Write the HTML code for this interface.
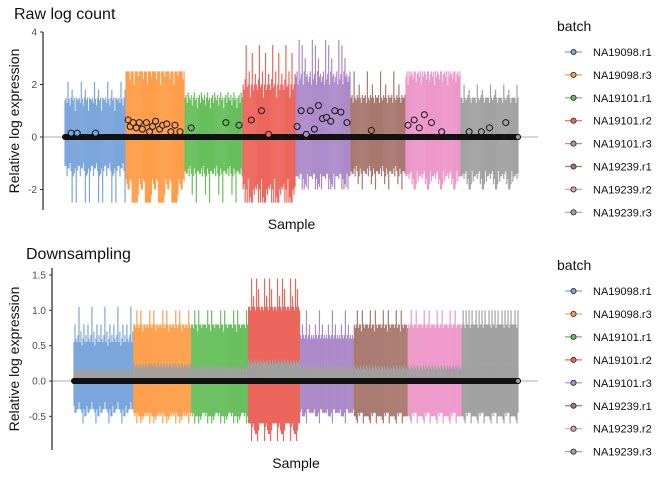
<!DOCTYPE html>
<html><head><meta charset="utf-8"><style>
body{margin:0;background:#fff;width:672px;height:480px;overflow:hidden}
svg{display:block;font-family:"Liberation Sans",sans-serif}
</style></head><body>
<svg id="c" width="672" height="480"></svg>
<script>
const batches=["NA19098.r1","NA19098.r3","NA19101.r1","NA19101.r2","NA19101.r3","NA19239.r1","NA19239.r2","NA19239.r3"];
const colors=["#7aa6dc","#ff9e4a","#67bf5c","#ed665d","#ad8bc9","#a8786e","#ed97ca","#a2a2a2"];
const samplesPerBatch=[60,58,57,52,54,54,54,57];
// top panel whisker patterns (cycled per sample)
const rawHi=[[1.4,1.5,1.3,2.1,1.45,1.2,1.5,1.8,1.4,1.5,1.0,1.5,1.45],[2.5,2.5,2.5,2.5,2.2,2.5,2.5,2.5,2.0,2.5,2.5,2.5,2.3],[1.5,1.6,1.3,1.7,1.5,1.4,1.6,1.2,1.5,1.7,1.4,1.5,1.1],[2.0,1.8,2.2,3.5,1.9,2.0,2.5,1.5,2.0,3.2,1.8,2.0,2.4],[2.3,2.5,2.0,3.7,2.2,2.4,3.5,2.0,2.5,3.0,2.3,2.4,2.1],[1.5,1.6,1.3,2.5,1.5,1.4,1.6,1.5,2.0,1.5,1.3,1.6,1.5],[2.3,2.5,2.0,2.5,2.3,2.5,2.4,2.2,2.5,2.5,2.1,2.4,2.5],[1.5,1.5,1.3,2.0,1.5,1.4,1.5,1.6,1.8,1.5,1.3,1.5,1.5]];
const rawLo=[[-1.1,-1.5,-1.2,-2.5,-1.3,-1.1,-1.4,-1.2,-1.3,-2.5,-1.5,-1.2,-1.0],[-1.6,-2.5,-2.0,-2.5,-2.5,-1.8,-2.5,-1.6,-2.2,-2.5,-2.0,-2.5,-1.7],[-1.3,-1.5,-1.2,-2.5,-1.4,-1.4,-1.2,-1.5,-1.3,-2.2,-1.4,-1.4,-1.1],[-2.0,-2.5,-2.0,-2.2,-2.5,-1.8,-2.5,-2.5,-1.9,-2.3,-2.5,-2.0,-1.6],[-1.5,-2.0,-1.6,-1.4,-2.0,-1.5,-1.8,-1.4,-2.0,-1.6,-1.5,-1.9,-1.4],[-1.3,-1.5,-1.2,-2.0,-1.3,-1.4,-1.2,-1.5,-1.3,-1.8,-1.4,-1.4,-1.1],[-1.5,-2.0,-1.6,-1.3,-1.8,-1.5,-2.0,-1.4,-1.7,-1.6,-1.4,-1.8,-1.3],[-1.5,-2.0,-1.6,-1.3,-1.8,-1.5,-2.0,-1.4,-1.7,-1.6,-1.4,-1.8,-1.3]];
const rawBox=[0.12,-0.05];
// top panel median points: [batch, sampleIndex, value]
const rawPts=[[0,6,0.15],[0,12,0.15],[0,30,0.15],[1,2,0.65],[1,4,0.4],[1,7,0.55],[1,10,0.35],[1,13,0.55],[1,16,0.3],[1,20,0.55],[1,23,0.2],[1,26,0.4],[1,29,0.6],[1,33,0.3],[1,36,0.45],[1,40,0.5],[1,44,0.2],[1,48,0.45],[1,53,0.2],[2,6,0.35],[2,40,0.55],[2,53,0.45],[3,8,0.65],[3,18,1.0],[3,25,0.1],[4,1,0.4],[4,5,1.0],[4,10,0.1],[4,14,1.0],[4,18,0.3],[4,22,1.2],[4,26,0.7],[4,30,0.75],[4,34,0.6],[4,38,1.0],[4,44,0.95],[4,50,0.55],[5,20,0.25],[6,2,0.45],[6,8,0.65],[6,13,0.35],[6,18,0.85],[6,25,0.55],[6,35,0.2],[7,8,0.2],[7,20,0.2],[7,28,0.35],[7,44,0.55]];
// bottom panel
const dsHi=[[0.55,0.8,0.6,0.55,0.65,1.05,0.55,0.7,0.5,0.6,0.8,0.55,0.65],[0.8,0.8,0.75,1.0,0.8,0.75,0.8,1.0,0.8,0.7,0.8,0.8,0.75],[0.8,0.8,0.75,1.0,0.8,0.8,0.7,1.0,0.8,0.8,0.75,0.8,0.8],[1.05,1.05,1.0,1.45,1.05,1.2,1.05,1.0,1.45,1.05,1.3,1.05,1.0],[0.65,0.6,0.8,0.65,0.6,0.65,1.0,0.6,0.65,0.8,0.6,0.65,0.6],[0.8,0.75,0.8,1.0,0.75,0.8,0.8,0.7,1.0,0.8,0.75,0.8,0.8],[0.8,0.75,0.8,1.0,0.8,0.75,0.8,0.8,1.0,0.75,0.8,0.8,0.8],[0.8,1.0,0.8,0.75,1.0,0.8,0.8,1.0,0.75,0.8,1.0,0.8,0.8]];
const dsLo=[[-0.35,-0.45,-0.4,-0.5,-0.4,-0.45,-0.6,-0.4,-0.5,-0.4,-0.45,-0.4,-0.3],[-0.45,-0.5,-0.6,-0.45,-0.5,-0.5,-0.55,-0.45,-0.5,-0.6,-0.45,-0.5,-0.5],[-0.45,-0.5,-0.6,-0.45,-0.5,-0.5,-0.55,-0.5,-0.45,-0.6,-0.45,-0.5,-0.5],[-0.6,-0.75,-0.85,-0.6,-0.7,-0.6,-0.85,-0.65,-0.6,-0.75,-0.6,-0.7,-0.6],[-0.45,-0.4,-0.5,-0.45,-0.6,-0.4,-0.45,-0.5,-0.45,-0.4,-0.5,-0.45,-0.45],[-0.5,-0.45,-0.6,-0.5,-0.45,-0.5,-0.6,-0.45,-0.5,-0.45,-0.55,-0.5,-0.5],[-0.5,-0.45,-0.6,-0.5,-0.45,-0.5,-0.6,-0.45,-0.5,-0.45,-0.55,-0.5,-0.5],[-0.5,-0.45,-0.6,-0.5,-0.45,-0.5,-0.6,-0.45,-0.5,-0.45,-0.55,-0.5,-0.5]];
const dsBoxHi=[0.18,0.25,0.22,0.3,0.22,0.22,0.22,0.2];
const dsBoxLo=[0,0,0,0,0,0,0,0];
const rawTicks=[4,2,0,-2];
const dsTicks=[1.5,1.0,0.5,0.0,-0.5];
const dsTickLabels=["1.5","1.0","0.5","0.0","-0.5"];

const svg=document.getElementById('c');
const NS='http://www.w3.org/2000/svg';
function mk(t,a,p){const e=document.createElementNS(NS,t);for(const k in a)e.setAttribute(k,a[k]);(p||svg).appendChild(e);return e;}

function panel(o){
  const g=mk('g',{});
  
  
  const y=v=>o.y0+(o.yTop-o.y0)*(v/o.vTop);
  const total=samplesPerBatch.reduce((a,b)=>a+b,0);
  const x=i=>o.x0+(o.x1-o.x0)*i/(total-1);
  const zl=mk('line',{x1:o.axX,x2:o.x1+20,y1:y(0),y2:y(0),stroke:'#bdbdbd','stroke-width':1.2},g);
  
  
  let idx=0;const starts=[];
  samplesPerBatch.forEach((n,b)=>{
    starts.push(idx);
    const bg=mk('g',{},g);
    
    
    const L=o.hi[b].length;
    for(let s=0;s<n;s++){
      const xi=x(idx+s);
      const hi=o.hi[b][s%L],lo=o.lo[b][(s*5)%L];
      mk('line',{x1:xi,x2:xi,y1:y(hi),y2:y(lo),stroke:colors[b],'stroke-width':1.2},bg);
    }
    for(let s=0;s<n;s++){
      const xi=x(idx+s);
      mk('line',{x1:xi,x2:xi,y1:y(o.bh(b,s)),y2:y(o.bl(b,s)),stroke:'#a0a0a0','stroke-width':1.1},bg);
    }
    idx+=n;
  });
  const ml=mk('line',{x1:x(0),x2:x(total-1),y1:y(0),y2:y(0),stroke:'#111','stroke-width':6,'stroke-linecap':'round'},g);
  
  
  (o.pts||[]).forEach(p=>{
    const c=mk('circle',{cx:x(starts[p[0]]+p[1]),cy:y(p[2]),r:3,fill:colors[p[0]],stroke:'#111','stroke-width':1},g);
    
    
  });
  mk('circle',{cx:x(total-1),cy:y(0),r:2.5,fill:colors[7],stroke:'#111','stroke-width':1},g);
  const ax=mk('line',{x1:o.axX,x2:o.axX,y1:o.axTop,y2:o.axBot,stroke:'#333','stroke-width':1.3},g);
  
  
  o.ticks.forEach((t,i)=>{
    mk('line',{x1:o.axX-3,x2:o.axX,y1:y(t),y2:y(t),stroke:'#333'},g);
    const tx=mk('text',{x:o.axX-6,y:y(t)+3.5,'text-anchor':'end','font-size':10,fill:'#4d4d4d'},g);
    tx.textContent=o.labels[i];
    
    
  });
  const tt=mk('text',{x:o.titleX,y:o.titleY,'font-size':16,fill:'#111'},g);
  tt.textContent=o.title;
  
  
  const yt=mk('text',{x:0,y:0,'font-size':14,fill:'#111','text-anchor':'middle',transform:`translate(${o.ytX},${(o.axTop+o.axBot)/2}) rotate(-90)`},g);
  yt.textContent='Relative log expression';
  
  
  const xt=mk('text',{x:(o.x0+o.x1)/2,y:o.xtY,'font-size':14,fill:'#111','text-anchor':'middle'},g);
  xt.textContent='Sample';
  
  
  const lg=mk('g',{},g);
  
  
  const lt=mk('text',{x:557,y:o.legY,'font-size':14,fill:'#111'},lg);
  lt.textContent='batch';
  batches.forEach((b,i)=>{
    const ly=o.legY0+i*o.legDy;
    const e=mk('g',{},lg);
    
    
    mk('line',{x1:565,x2:582,y1:ly,y2:ly,stroke:colors[i],'stroke-width':1.2},e);
    mk('circle',{cx:573.5,cy:ly,r:2.6,fill:colors[i],stroke:'#333','stroke-width':0.9},e);
    const t=mk('text',{x:593,y:ly+4,'font-size':11,fill:'#111'},e);
    t.textContent=b;
  });
}
panel({name:'raw-log-count-panel',title:'Raw log count',titleX:14,titleY:19,x0:65,x1:518,y0:137,yTop:32,vTop:4,axX:43,axTop:32,axBot:210,
  hi:rawHi,lo:rawLo,bh:()=>rawBox[0],bl:()=>rawBox[1],pts:rawPts,ticks:rawTicks,labels:["4","2","0","-2"],ytX:19,xtY:229,
  legY:31,legY0:52,legDy:22.9});
panel({name:'downsampling-panel',title:'Downsampling',titleX:26,titleY:259,x0:74,x1:518,y0:381,yTop:275,vTop:1.5,axX:52,axTop:268,axBot:450,
  hi:dsHi,lo:dsLo,bh:(b,s)=>dsBoxHi[b]-(s%3)*0.03,bl:(b,s)=>dsBoxLo[b],pts:[],ticks:dsTicks,labels:dsTickLabels,ytX:19,xtY:468,
  legY:270,legY0:291,legDy:22.95});
</script>
</body></html>
